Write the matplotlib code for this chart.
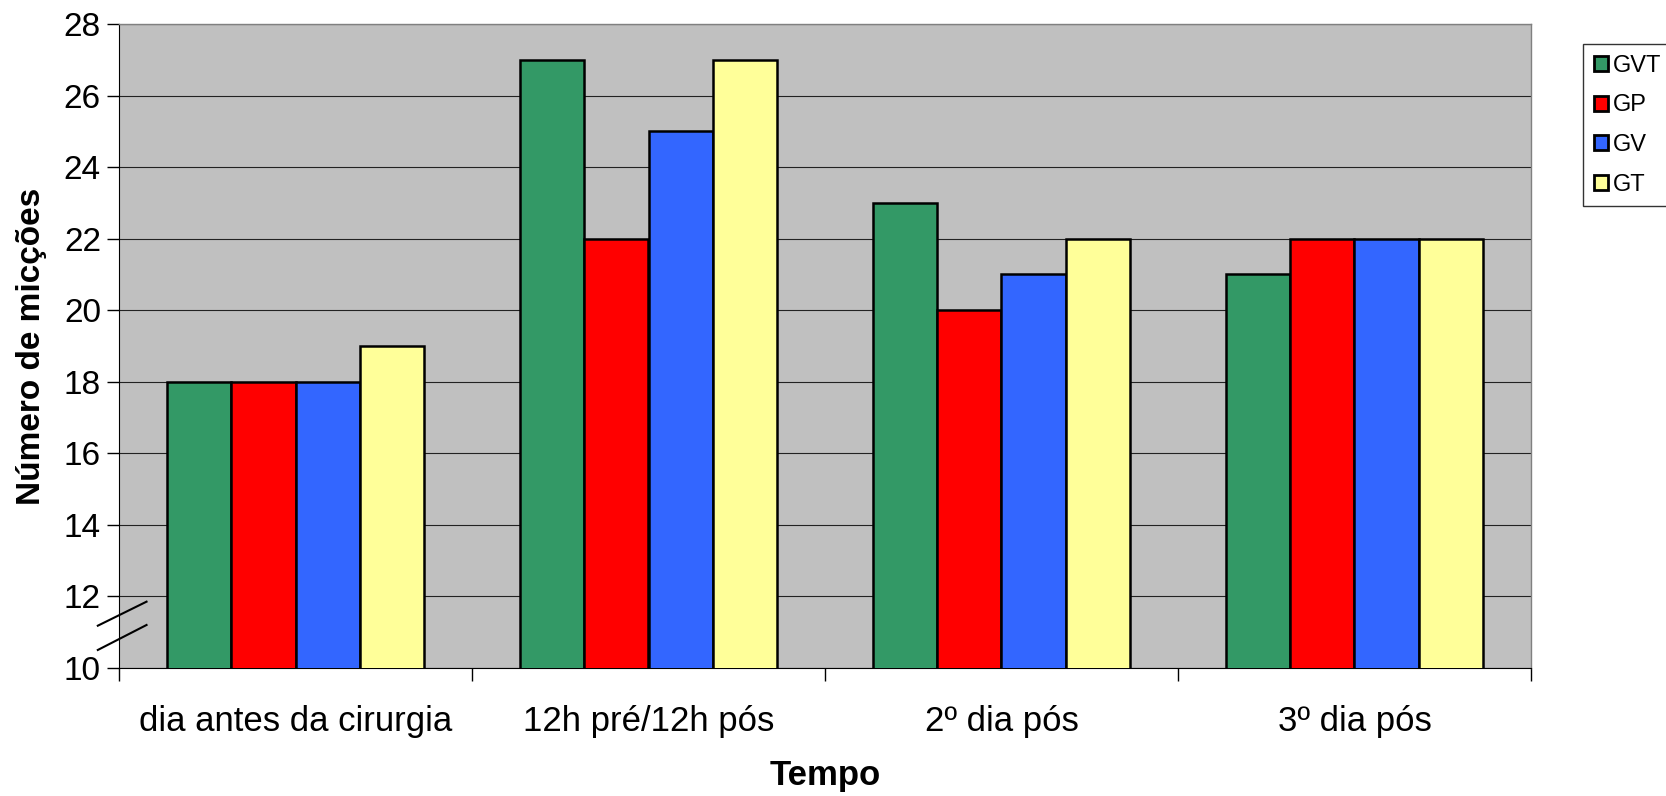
import matplotlib
matplotlib.use("Agg")
import matplotlib.pyplot as plt
import numpy as np

plt.rcParams['font.family'] = ['Liberation Sans', 'DejaVu Sans']

categories = ["dia antes da cirurgia", "12h pré/12h pós", "2º dia pós", "3º dia pós"]
series_names = ["GVT", "GP", "GV", "GT"]
GVT = [18, 27, 23, 21]
GP = [18, 22, 20, 22]
GV = [18, 25, 21, 22]
GT = [19, 27, 22, 22]
colors = ["#339966", "#FF0000", "#3366FF", "#FFFF99"]
yticks = [10, 12, 14, 16, 18, 20, 22, 24, 26, 28]

fig = plt.figure(figsize=(16.66, 7.96), dpi=100)
ax = fig.add_axes([119/1666, 1-668/796, 1412/1666, 644/796])
ax.set_facecolor("#C0C0C0")

x = np.arange(len(categories))
w = 0.182
data = [GVT, GP, GV, GT]
for i, (vals, c, name) in enumerate(zip(data, colors, series_names)):
    ax.bar(x + (i - 1.5) * w, vals, width=w, color=c, edgecolor="black",
           linewidth=1.8, label=name, zorder=3)

ax.set_ylim(10, 28)
ax.set_xlim(-0.5, len(categories) - 0.5)
ax.set_yticks(yticks)
ax.yaxis.grid(True, color="#222222", linewidth=0.8, zorder=0)
ax.set_axisbelow(True)

ax.set_xticks(x)
ax.set_xticklabels(categories, fontsize=25)
ax.tick_params(axis='x', which='major', length=0, pad=27)
ax.set_xticks(np.arange(-0.5, len(categories)), minor=True)
ax.tick_params(axis='x', which='minor', length=9, width=1, color="black")
ax.tick_params(axis='y', labelsize=24, length=9, width=1, color="black", pad=4)

for s in ["top", "right"]:
    ax.spines[s].set_color("#808080")
    ax.spines[s].set_linewidth(1)
ax.spines["left"].set_color("black")
ax.spines["bottom"].set_color("black")

ax.set_xlabel("Tempo", fontsize=25, fontweight="bold", labelpad=15)
ax.set_ylabel("Número de micções", fontsize=24, fontweight="bold", labelpad=12)

# axis break marks
for y0, y1 in [(0.0657, 0.103), (0.028, 0.0668)]:
    ax.plot([-0.015, 0.0195], [y0, y1], transform=ax.transAxes, color="black",
            linewidth=1.5, clip_on=False, zorder=5)

leg = fig.legend(loc="upper left", bbox_to_anchor=(1583/1666, 1-44/796),
                 fontsize=17, frameon=True, fancybox=False, edgecolor="black",
                 handlelength=0.6, handleheight=0.6, handletextpad=0.2,
                 labelspacing=0.75, borderpad=0.45, borderaxespad=0)
leg.get_frame().set_linewidth(1)
for h in leg.legend_handles:
    h.set_linewidth(2)

fig.savefig("out.png", dpi=100)
